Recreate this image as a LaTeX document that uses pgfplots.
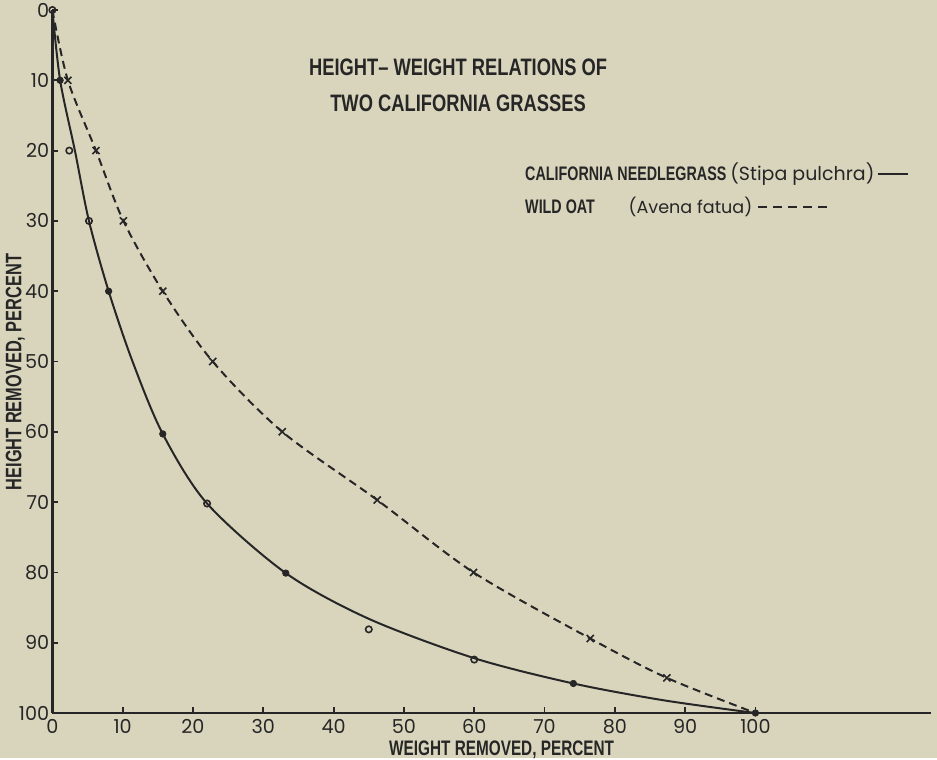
\documentclass[border=0pt]{standalone}
\usepackage{fontspec}
\setmainfont{Poppins}
\newfontfamily\lettering[FakeStretch=0.73]{Liberation Sans}
\newfontfamily\titlelettering[FakeStretch=0.77]{Liberation Sans}
\usepackage{pgfplots}
\pgfplotsset{compat=1.18}
\definecolor{paper}{HTML}{D9D5BD}
\definecolor{ink}{HTML}{262626}

% 1 px of the reference = 0.5pt
\begin{document}
\begin{tikzpicture}
\fill[paper] (-26.2pt,-22.5pt) rectangle (442.3pt,356.5pt);
\begin{axis}[
  at={(0,0)}, anchor=south west,
  scale only axis, width=439.4pt, height=351.5pt,
  xmin=0, xmax=125, ymin=0, ymax=100, y dir=reverse,
  axis lines=left,
  axis line style={-, line width=1.3pt, ink},
  xtick={0,10,...,100}, ytick={0,10,...,100},
  tick align=inside, major tick length=3pt,
  tick style={line width=0.9pt, ink},
  ticklabel style={font=\fontsize{9.6}{11}\selectfont, text=ink},
  /pgf/number format/assume math mode=true,
  yticklabel style={inner sep=0.4pt, xshift=-1pt},
  xticklabel style={inner sep=0.3pt, yshift=-2.6pt},
  clip=false,
]
% California needlegrass, drawn curve
\addplot[ink, line width=1pt, smooth, tension=0.5] coordinates {
  (0,0) (1.1,10) (3.2,20) (5.2,30) (8,40) (11.4,50) (15.7,60.3)
  (22,70.2) (33.2,80.1) (45,86.6) (60,92.2) (74.1,95.8) (87,98.2) (100,100)};
% wild oat, drawn curve
\addplot[ink, line width=1pt, dash pattern=on 4pt off 2.5pt, smooth, tension=0.5] coordinates {
  (0,0) (2.2,10) (6.2,20) (10.1,30) (15.7,40) (22.8,50) (32.7,60)
  (46.2,69.7) (59.9,80) (76.5,89.4) (87.4,95) (100,100)};
% observations
\addplot[only marks, mark=*, mark size=1.6pt, ink] coordinates {
  (1.1,10) (8,40) (15.7,60.3) (33.2,80.1) (74.1,95.8) (100,100)};
\addplot[only marks, mark=o, mark size=1.6pt, ink, mark options={line width=0.8pt}] coordinates {
  (0,0) (2.4,20) (5.2,30) (22,70.2) (45,88.1) (60,92.4)};
\addplot[only marks, mark=x, mark size=2.5pt, ink, mark options={line width=0.8pt}] coordinates {
  (2.2,10) (6.2,20) (10.1,30) (15.7,40) (22.8,50) (32.7,60)
  (46.2,69.7) (59.9,80) (76.5,89.4) (87.4,95)};

% title
\node[anchor=base, inner sep=0, text=ink, font=\titlelettering\bfseries\fontsize{11.9}{14}\selectfont]
  at (axis cs:57.7,9.25) {HEIGHT– WEIGHT RELATIONS OF};
\node[anchor=base, inner sep=0, text=ink, font=\titlelettering\bfseries\fontsize{11.9}{14}\selectfont]
  at (axis cs:57.7,14.5) {TWO CALIFORNIA GRASSES};

% key
\node[anchor=base west, inner sep=0, text=ink, font=\lettering\bfseries\fontsize{9.8}{12}\selectfont]
  at (axis cs:67.2,24.3) {CALIFORNIA NEEDLEGRASS {\normalfont\fontsize{9.5}{12}\selectfont(Stipa pulchra)}};
\draw[ink, line width=1pt] (axis cs:117.4,23.3) -- (axis cs:121.7,23.3);
\node[anchor=base west, inner sep=0, text=ink, font=\lettering\bfseries\fontsize{9.8}{12}\selectfont]
  at (axis cs:67.2,29) {WILD OAT};
\node[anchor=base west, inner sep=0, text=ink, font=\fontsize{8.8}{12}\selectfont]
  at (axis cs:81.9,29) {(Avena fatua)};
\draw[ink, line width=1pt, dash pattern=on 4.5pt off 3pt] (axis cs:100.4,28) -- (axis cs:110.5,28);

% axis titles
\node[anchor=base, inner sep=0, text=ink, font=\lettering\bfseries\fontsize{10.5}{12}\selectfont]
  at (axis cs:63.9,106.1) {WEIGHT REMOVED, PERCENT};
\node[anchor=base, inner sep=0, rotate=90, text=ink, font=\lettering\bfseries\fontsize{11.2}{12}\selectfont]
  at (axis cs:-4.4,51.5) {HEIGHT REMOVED, PERCENT};
\end{axis}
\end{tikzpicture}
\end{document}
